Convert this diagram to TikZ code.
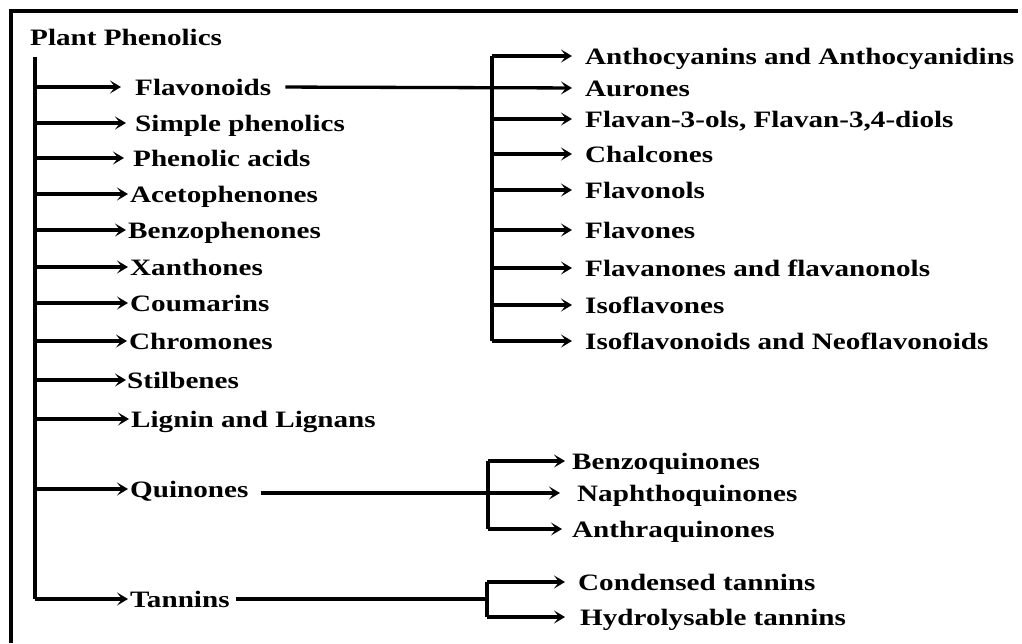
\documentclass[tikz,border=0pt]{standalone}
\usepackage{graphicx}
\usepackage{fontspec}
\setmainfont{Liberation Serif}
\usetikzlibrary{arrows.meta,calc}
\newcommand{\Tx}[1]{\scalebox{1.24}[1]{#1}}
\begin{document}
\begin{tikzpicture}[x=1pt,y=-1pt,
  lab/.style={anchor=west, inner sep=0pt, text height=16pt, text depth=0pt,
              font=\bfseries\fontsize{23.5}{25}\selectfont},
  thk/.style={line width=3.3pt},
  arw/.style={thk, -{Stealth[length=11pt,width=13pt,inset=5pt]}}]
\useasboundingbox (0,0) rectangle (1022,643);
\fill[white] (0,0) rectangle (1022,643);
% frame
\draw[line width=3.5pt] (1018,11) -- (11,11) -- (11,643);

% root
\node[lab] (root) at (30,37) {\Tx{Plant Phenolics}};

% main branches
\node[lab] (flav) at (135,87)  {\Tx{Flavonoids}};
\node[lab] (simp) at (135,123) {\Tx{Simple phenolics}};
\node[lab] (phac) at (133,158) {\Tx{Phenolic acids}};
\node[lab] (acet) at (130,194) {\Tx{Acetophenones}};
\node[lab] (benz) at (128,230) {\Tx{Benzophenones}};
\node[lab] (xant) at (130,267) {\Tx{Xanthones}};
\node[lab] (coum) at (130,303) {\Tx{Coumarins}};
\node[lab] (chro) at (129,341) {\Tx{Chromones}};
\node[lab] (stil) at (127,380) {\Tx{Stilbenes}};
\node[lab] (lign) at (131,419) {\Tx{Lignin and Lignans}};
\node[lab] (quin) at (130,489) {\Tx{Quinones}};
\node[lab] (tann) at (130,599) {\Tx{Tannins}};

% trunk
\coordinate (ttop) at (35,57);
\coordinate (tbot) at (35,599);
\draw[thk] (ttop) -- (tbot);
\foreach \n/\s in {flav/14pt,simp/9pt,phac/9pt,acet/2pt,benz/2pt,xant/2pt,coum/2pt,chro/2pt,stil/1pt,lign/2pt,quin/2pt,tann/2pt}{
  \draw[arw, shorten >=\s] (ttop |- \n.west) -- (\n.west);
}

% flavonoid subclasses
\node[lab] (f1) at (585,56)  {\Tx{Anthocyanins and Anthocyanidins}};
\node[lab] (f2) at (585,88)  {\Tx{Aurones}};
\node[lab] (f3) at (585,119) {\Tx{Flavan-3-ols, Flavan-3,4-diols}};
\node[lab] (f4) at (585,154) {\Tx{Chalcones}};
\node[lab] (f5) at (585,190) {\Tx{Flavonols}};
\node[lab] (f6) at (585,230) {\Tx{Flavones}};
\node[lab] (f7) at (585,268) {\Tx{Flavanones and flavanonols}};
\node[lab] (f8) at (585,305) {\Tx{Isoflavones}};
\node[lab] (f9) at (585,341) {\Tx{Isoflavonoids and Neoflavonoids}};
\coordinate (fvt) at (492,56);
\coordinate (fvb) at (492,341);
\draw[thk] (fvt) -- (fvb);
\draw[arw, shorten <=14pt, shorten >=13pt] (flav.east) -- (f2.west);
\foreach \n in {f1,f3,f4,f5,f6,f7,f8,f9}{
  \draw[arw, shorten >=13pt] (fvt |- \n.west) -- (\n.west);
}

% quinone subclasses
\node[lab] (q1) at (572,461) {\Tx{Benzoquinones}};
\node[lab] (q2) at (577,493) {\Tx{Naphthoquinones}};
\node[lab] (q3) at (572,529) {\Tx{Anthraquinones}};
\coordinate (qvt) at (488,461);
\coordinate (qvb) at (488,529);
\draw[thk] (qvt) -- (qvb);
\coordinate (qs) at ($(quin.east)+(12pt,0)$);
\draw[arw, shorten >=17pt] (qs |- q2.west) -- (q2.west);
\draw[arw, shorten >=7pt] (qvt) -- (q1.west);
\draw[arw, shorten >=10pt] (qvb) -- (q3.west);

% tannin subclasses
\node[lab] (t1) at (578,582) {\Tx{Condensed tannins}};
\node[lab] (t2) at (580,617) {\Tx{Hydrolysable tannins}};
\coordinate (tvt) at (487,582);
\coordinate (tvb) at (487,617);
\draw[thk] (tvt) -- (tvb);
\draw[thk, shorten <=6pt] (tann.east) -- (tvt |- tann.east);
\draw[arw, shorten >=13pt] (tvt) -- (t1.west);
\draw[arw, shorten >=15pt] (tvb) -- (t2.west);
\end{tikzpicture}
\end{document}
